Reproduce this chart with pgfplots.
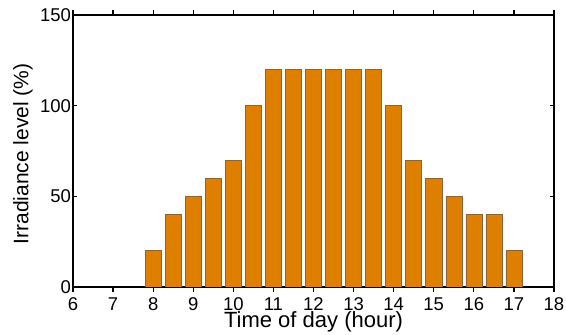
\documentclass[border=0pt]{standalone}
\usepackage{fontspec}
\setmainfont{Liberation Sans}
\usepackage{pgfplots}
\pgfplotsset{compat=1.18}
\definecolor{barfill}{RGB}{222,127,0}
\definecolor{baredge}{RGB}{140,100,60}
\begin{document}
\begin{tikzpicture}
\begin{axis}[
  scale only axis,
  width=481pt, height=272pt,
  xmin=6, xmax=18, ymin=0, ymax=150,
  xtick={6,7,...,18}, ytick={0,50,100,150},
  tick align=inside,
  major tick length=4.5pt,
  axis line style={line width=1.2pt},
  every tick/.style={line width=1.2pt, black},
  /pgf/number format/assume math mode=true,
  tick label style={font=\fontsize{18.5}{20}\selectfont},
  xlabel={Time of day (hour)},
  ylabel={Irradiance level (\%)},
  xlabel style={font=\fontsize{22}{23}\selectfont, at={([yshift=-40.5pt]axis description cs:0.5,0)}, anchor=base, inner sep=0pt},
  ylabel style={font=\fontsize{21}{22}\selectfont, at={([xshift=-40pt,yshift=-3pt]axis description cs:0,0.5)}, anchor=south, inner sep=0pt},
  xticklabel style={inner sep=1pt, yshift=-5pt},
  yticklabel style={xshift=1.5pt},
  ybar, bar width=0.4,
]
\addplot[fill=barfill, draw=baredge, line width=0.5pt] coordinates {
(8,20) (8.5,40) (9,50) (9.5,60) (10,70) (10.5,100) (11,120) (11.5,120)
(12,120) (12.5,120) (13,120) (13.5,120) (14,100) (14.5,70) (15,60)
(15.5,50) (16,40) (16.5,40) (17,20)
};
\coordinate (SW) at (rel axis cs:0,0);
\coordinate (NE) at (rel axis cs:1,1);
\end{axis}
\path ([shift={(-73pt,-48pt)}]SW) rectangle ([shift={(12pt,15pt)}]NE);
\end{tikzpicture}
\end{document}
